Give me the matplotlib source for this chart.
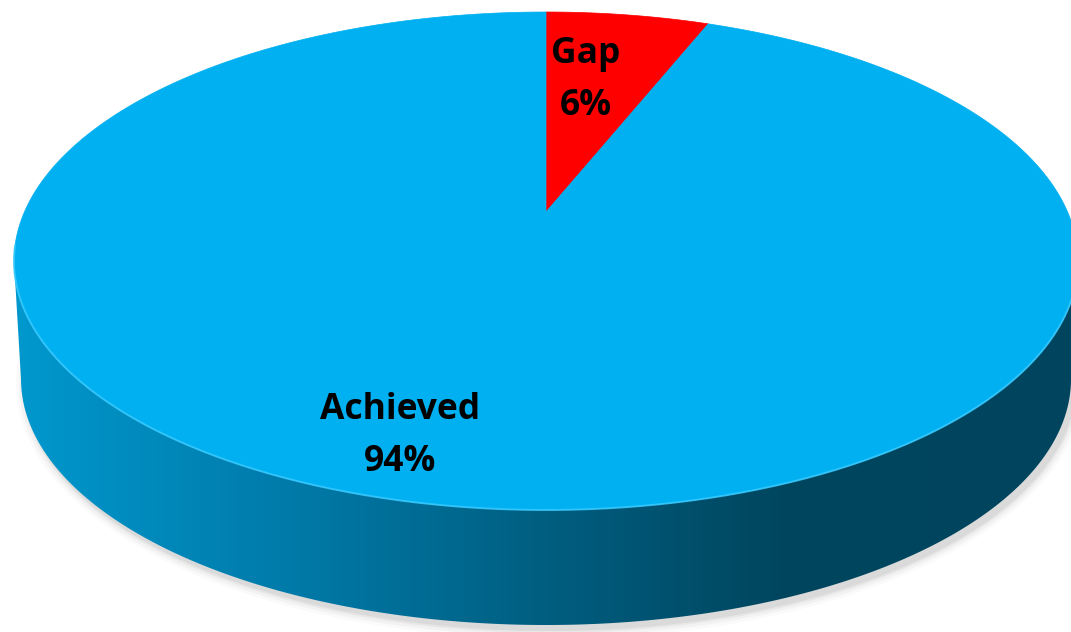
import numpy as np
import matplotlib
matplotlib.use("Agg")
import matplotlib.pyplot as plt
from matplotlib.patches import Polygon
from matplotlib.colors import LinearSegmentedColormap

# ---- data ----
categories = ["Achieved", "Gap"]
values = [94, 6]
pct_labels = ["94%", "6%"]
slice_colors = ["#00B0F0", "#FF0000"]

# ---- layout (pixels) ----
W, H = 1071, 632
fig = plt.figure(figsize=(W / 100, H / 100), dpi=100)
ax = fig.add_axes([0, 0, 1, 1])
ax.set_xlim(0, W)
ax.set_ylim(H, 0)
ax.axis("off")

cx, cy, a, b = 546, 261, 532, 249      # top ellipse
cx2, cy2, a2, b2 = 546, 379, 525, 246  # bottom ellipse
beta = 0.197                            # perspective shift of centre


def proj(theta):
    """theta measured clockwise from the far (top) side, radians."""
    u = np.sin(theta)
    v = np.cos(theta)
    s = np.sqrt(1 - beta ** 2)
    up = u * s / (1 + beta * v)
    vp = (v + beta) / (1 + beta * v)
    return cx + a * up, cy - b * vp


apex = (cx, cy - b * beta)

# ---- shadow ----
phi = np.linspace(0, 2 * np.pi, 400)
for grow, alpha in [(9, 0.04), (6, 0.06), (3, 0.09), (1, 0.12)]:
    sx = cx2 + 4 + (a2 + grow) * np.cos(phi)
    sy = cy2 + 5 + (b2 + grow) * np.sin(phi)
    ax.add_patch(Polygon(np.column_stack([sx, sy]), closed=True,
                         facecolor="#808080", edgecolor="none", alpha=alpha, zorder=1))

# ---- side band ----
p1 = np.linspace(np.pi, 0, 300)
p2 = np.linspace(0, np.pi, 300)
side_x = np.concatenate([cx + a * np.cos(p1), cx2 + a2 * np.cos(p2)])
side_y = np.concatenate([cy + b * np.sin(p1), cy2 + b2 * np.sin(p2)])
side = Polygon(np.column_stack([side_x, side_y]), closed=True,
               facecolor="none", edgecolor="none", zorder=2)
ax.add_patch(side)

stops = [(0.0, "#0098CE"), (0.27, "#0079A7"), (0.50, "#005E80"),
         (0.72, "#00465F"), (1.0, "#00445E")]
cmap = LinearSegmentedColormap.from_list("side", stops)
grad = np.linspace(0, 1, 512).reshape(1, -1)
im = ax.imshow(grad, cmap=cmap, extent=(cx - a, cx + a, H, 0),
               aspect="auto", zorder=2, interpolation="bilinear")
im.set_clip_path(side)

# ---- top slices ----
total = float(sum(values))
start = 0.0
order = [1, 0]  # Gap starts at 12 o'clock, then Achieved clockwise
for idx in order:
    span = values[idx] / total * 2 * np.pi
    th = np.linspace(start, start + span, 400)
    xs, ys = proj(th)
    pts = np.column_stack([np.concatenate([[apex[0]], xs]),
                           np.concatenate([[apex[1]], ys])])
    ax.add_patch(Polygon(pts, closed=True, facecolor=slice_colors[idx],
                         edgecolor=slice_colors[idx], linewidth=0.5, zorder=3))
    start += span

# rim highlight on the front edge
rim = np.linspace(np.pi * 1.02, -0.02 * np.pi, 300)
ax.plot(cx + a * np.cos(rim), cy + b * np.sin(rim), color="#3CCBFF",
        linewidth=1.4, alpha=0.8, zorder=4, solid_capstyle="round")

# ---- labels ----
font = dict(family=["Open Sans", "DejaVu Sans"], fontweight="bold", fontsize=25.5,
            color="black", ha="center", va="baseline", zorder=5)
label_xy = {"Achieved": ((400, 419), (400, 471)), "Gap": ((586, 63), (586, 115))}
for cat, pct in zip(categories, pct_labels):
    (x1, y1), (x2, y2) = label_xy[cat]
    ax.text(x1, y1, cat, **font)
    ax.text(x2, y2, pct, **font)

fig.savefig("out.png", dpi=100)
